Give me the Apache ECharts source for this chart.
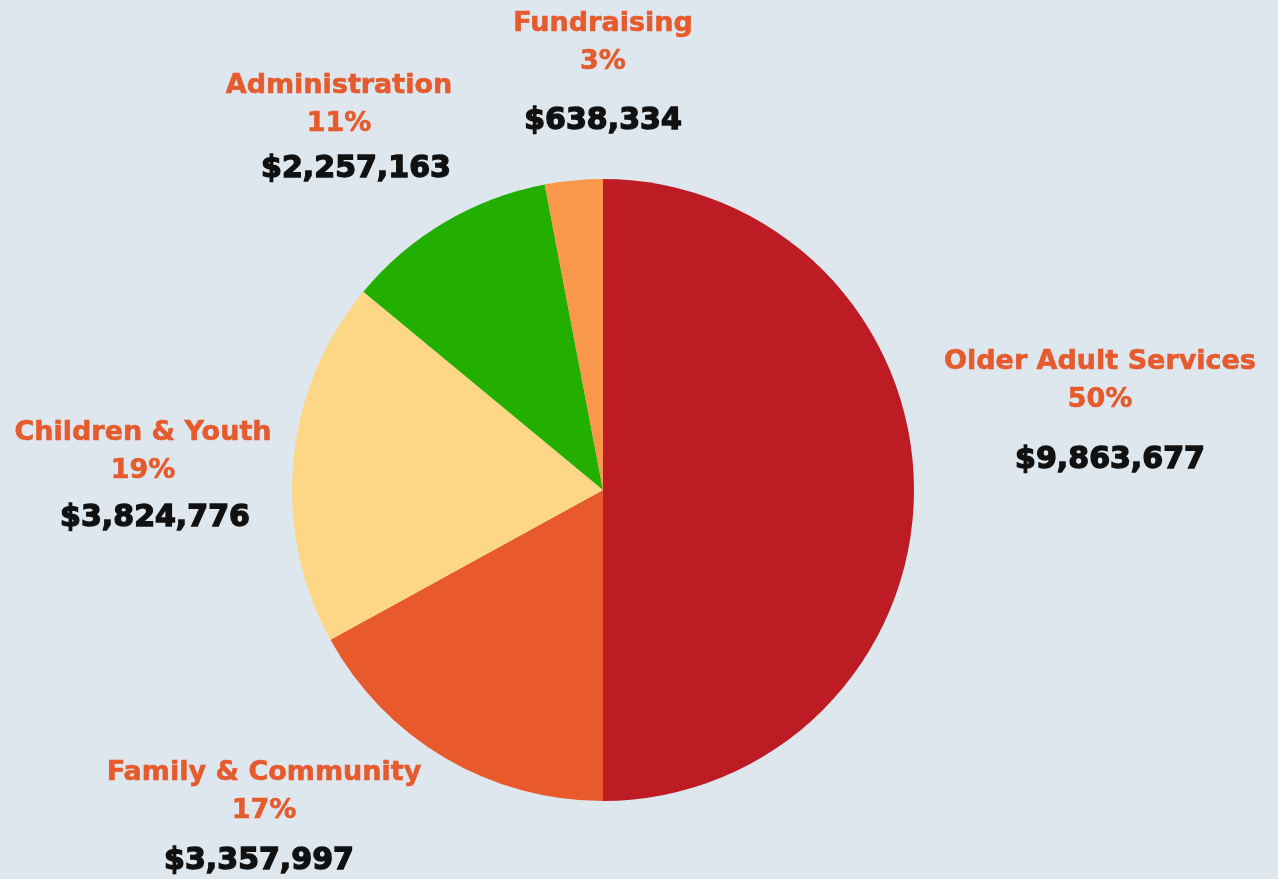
<!DOCTYPE html>
<html>
<head>
<meta charset="utf-8">
<script src="https://cdn.jsdelivr.net/npm/echarts@6/dist/echarts.min.js"></script>
<style>
html,body{margin:0;padding:0;background:#DEE6EE;}
#chart{width:1278px;height:879px;}
</style>
</head>
<body>
<div id="chart"></div>
<script>
// ---- data ----
const categories = ['Older Adult Services', 'Family & Community', 'Children & Youth', 'Administration', 'Fundraising'];
const percents = [50, 17, 19, 11, 3];
const amounts = ['$9,863,677', '$3,357,997', '$3,824,776', '$2,257,163', '$638,334'];
const colors = ['#BD1C24', '#E8592C', '#FDD686', '#22AF00', '#F9974A'];

// ---- label layout (centre x, centre y of first line, gap pct->amount, amount x shift) ----
const labelLayout = [
  { x: 1100, y: 362, gap: 60, shift: 10 },
  { x: 264, y: 773, gap: 50, shift: -5 },
  { x: 143, y: 433, gap: 47, shift: 12 },
  { x: 339, y: 86, gap: 45, shift: 17 },
  { x: 603, y: 24, gap: 59, shift: 0 }
];

const FONT = '"DejaVu Sans", sans-serif';
const LN = 38;
const ORANGE = '#E55B2D';
const BLACK = '#111111';

const seriesData = categories.map((name, i) => {
  const L = labelLayout[i];
  const la = 2 * (L.gap - LN / 2);
  const pad = L.shift >= 0 ? [0, 0, 0, 2 * L.shift] : [0, -2 * L.shift, 0, 0];
  return {
    name: name,
    value: percents[i],
    amount: amounts[i],
    itemStyle: { color: colors[i] },
    label: {
      rich: {
        n: { fontFamily: FONT, fontSize: 27, fontWeight: 'bold', color: ORANGE, textBorderColor: ORANGE, textBorderWidth: 0.6, lineHeight: LN, align: 'center' },
        p: { fontFamily: FONT, fontSize: 27, fontWeight: 'bold', color: ORANGE, textBorderColor: ORANGE, textBorderWidth: 0.6, lineHeight: LN, align: 'center' },
        a: { fontFamily: FONT, fontSize: 30, fontWeight: 'bold', color: BLACK, textBorderColor: BLACK, textBorderWidth: 1.4, lineHeight: la, align: 'center', padding: pad }
      }
    }
  };
});

const chart = echarts.init(document.getElementById('chart'), null, { renderer: 'canvas' });
chart.setOption({
  backgroundColor: '#DEE6EE',
  animation: false,
  series: [{
    type: 'pie',
    center: [603, 490],
    radius: [0, 311],
    startAngle: 90,
    clockwise: true,
    avoidLabelOverlap: false,
    data: seriesData,
    label: {
      show: true,
      position: 'outside',
      formatter: p => '{n|' + p.name + '}\n{p|' + p.value + '%}\n{a|' + p.data.amount + '}'
    },
    labelLine: { show: false },
    labelLayout: function (params) {
      const L = labelLayout[params.dataIndex];
      return { x: L.x, y: L.y - LN / 2, align: 'center', verticalAlign: 'top' };
    },
    emphasis: { disabled: true }
  }]
});
</script>
</body>
</html>
